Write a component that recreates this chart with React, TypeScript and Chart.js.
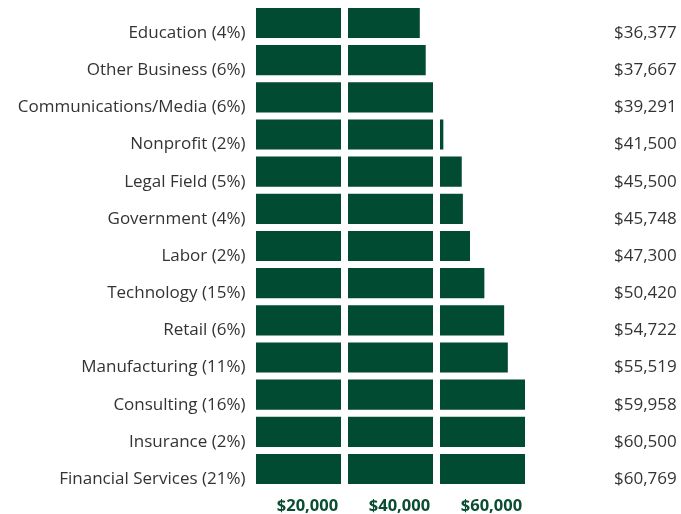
import React, { useEffect, useRef } from "react";
import { Chart, registerables } from "chart.js";

Chart.register(...registerables);

const industries = [
  "Education",
  "Other Business",
  "Communications/Media",
  "Nonprofit",
  "Legal Field",
  "Government",
  "Labor",
  "Technology",
  "Retail",
  "Manufacturing",
  "Consulting",
  "Insurance",
  "Financial Services",
];
const shares = [4, 6, 6, 2, 5, 4, 2, 15, 6, 11, 16, 2, 21];
const salaries = [36377, 37667, 39291, 41500, 45500, 45748, 47300, 50420, 54722, 55519, 59958, 60500, 60769];
const gridValues = [0, 20000, 40000, 60000];
const axisTicks = [20000, 40000, 60000];

const BAR = "#004b31";
const TEXT = "#333333";
const FONT = "'Open Sans', sans-serif";

export default function App() {
  const ref = useRef<HTMLCanvasElement | null>(null);

  useEffect(() => {
    document.body.style.margin = "0";
    const categoryLabels = industries.map((n, i) => `${n} (${shares[i]}%)`);
    const valueLabels = salaries.map((v) => "$" + v.toLocaleString("en-US"));
    const noPad = (s: any) => {
      s.paddingTop = 0;
      s.paddingBottom = 0;
      s.paddingLeft = 0;
      s.paddingRight = 0;
    };
    const chart = new Chart(ref.current as HTMLCanvasElement, {
      type: "bar",
      data: {
        labels: categoryLabels,
        datasets: [
          {
            data: salaries,
            backgroundColor: BAR,
            barPercentage: 0.81,
            categoryPercentage: 1,
          },
        ],
      },
      options: {
        indexAxis: "y",
        animation: false,
        responsive: true,
        maintainAspectRatio: false,
        layout: { padding: { top: 4.4, bottom: 0, left: 0, right: 0 } },
        plugins: { legend: { display: false }, tooltip: { enabled: false } },
        scales: {
          x: {
            type: "linear",
            min: 0,
            max: 76000,
            border: { display: false },
            grid: { color: "#ffffff", lineWidth: 7, drawTicks: false, z: 1 },
            afterBuildTicks: (s: any) => {
              s.ticks = gridValues.map((v) => ({ value: v }));
            },
            ticks: {
              autoSkip: false,
              padding: 9,
              labelOffset: -37,
              color: "#0b4d33",
              font: { family: FONT, size: 16.5, weight: "bold" },
              callback: (v: any) => (axisTicks.includes(Number(v)) ? "$" + Number(v).toLocaleString("en-US") : ""),
            },
            afterFit: (s: any) => {
              s.height = 26.4;
              noPad(s);
            },
          },
          y: {
            type: "category",
            position: "left",
            border: { display: false },
            grid: { display: false, drawTicks: false },
            ticks: { color: TEXT, padding: 7, labelOffset: 10, font: { family: FONT, size: 17 } },
            afterFit: (s: any) => {
              s.width = 252.5;
              noPad(s);
            },
          },
          y2: {
            type: "category",
            position: "right",
            labels: valueLabels,
            offset: true,
            border: { display: false },
            grid: { display: false, drawTicks: false },
            ticks: { color: TEXT, padding: 12, labelOffset: 10, crossAlign: "center", font: { family: FONT, size: 17 } },
            afterFit: (s: any) => {
              s.width = 79;
              noPad(s);
            },
          },
        },
      },
    });
    return () => chart.destroy();
  }, []);

  return (
    <div style={{ position: "relative", width: 681, height: 514, background: "#ffffff" }}>
      <canvas ref={ref} />
    </div>
  );
}
